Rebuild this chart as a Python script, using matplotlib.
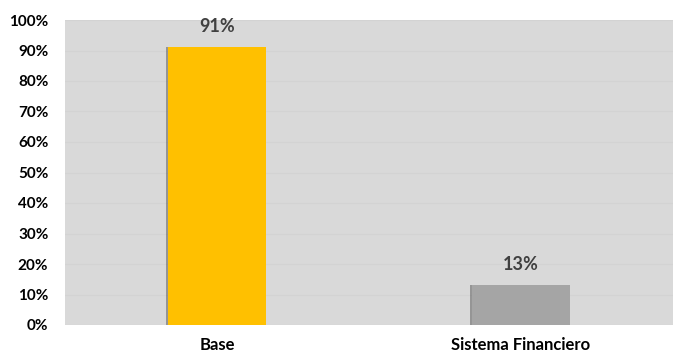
import matplotlib.pyplot as plt
import matplotlib.patheffects as pe
from matplotlib.ticker import PercentFormatter

categories = ["Base", "Sistema Financiero"]
values = [91, 13]
labels = ["91%", "13%"]
bar_colors = ["#FFC000", "#A5A5A5"]
yticks = list(range(0, 101, 10))

plt.rcParams["font.family"] = ["Lato", "DejaVu Sans"]

fig = plt.figure(figsize=(6.74, 3.54), dpi=100)
ax = fig.add_axes([65 / 674, 1 - 325 / 354, 608 / 674, 305 / 354])
ax.set_facecolor("#D9D9D9")

x = range(len(categories))
bars = ax.bar(x, values, width=0.32, color=bar_colors, zorder=3)
for b in bars:
    b.set_path_effects([pe.SimplePatchShadow(offset=(-2, 0), shadow_rgbFace="#444444", alpha=0.45),
                        pe.Normal()])

for b, lab in zip(bars, labels):
    ax.annotate(lab, (b.get_x() + b.get_width() / 2, b.get_height()),
                xytext=(0, 9), textcoords="offset points", ha="center", va="bottom",
                fontsize=13, fontweight="bold", color="#404040")

ax.set_xlim(-0.5, 1.5)
ax.set_ylim(0, 100)
ax.set_yticks(yticks)
ax.yaxis.set_major_formatter(PercentFormatter(decimals=0))
ax.set_xticks(list(x))
ax.set_xticklabels(categories)
ax.grid(axis="y", color="#D3D3D3", linewidth=0.8, zorder=0)
for s in ax.spines.values():
    s.set_visible(False)
ax.tick_params(length=0, colors="#000000")
ax.tick_params(axis="y", pad=12, labelsize=11)
ax.tick_params(axis="x", pad=9, labelsize=12)
for t in ax.get_xticklabels() + ax.get_yticklabels():
    t.set_fontweight("bold")

fig.savefig("out.png", dpi=100)
